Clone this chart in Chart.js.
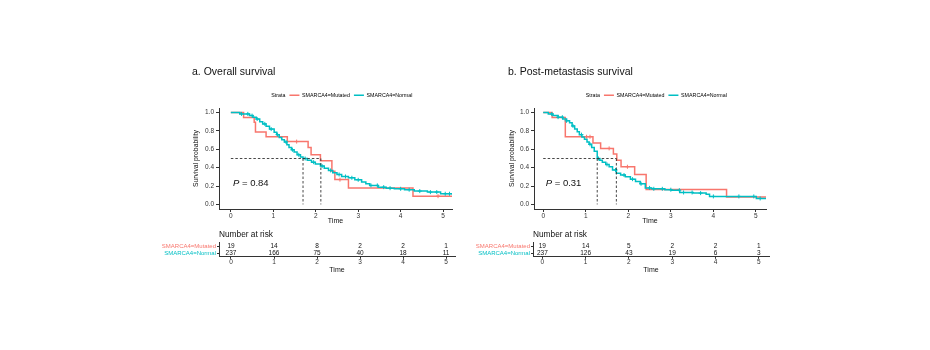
<!DOCTYPE html>
<html>
<head>
<meta charset="utf-8">
<script src="https://cdn.jsdelivr.net/npm/chart.js@4.4.0/dist/chart.umd.min.js"></script>
<style>
  body { margin: 0; background: #fff; }
  #wrap { position: relative; width: 930px; height: 350px; overflow: hidden; background: #fff; }
  canvas { position: absolute; }
</style>
</head>
<body>
<div id="wrap">
  <canvas id="kmA" width="267" height="165" style="left:190px;top:60px"></canvas>
  <canvas id="kmB" width="265" height="165" style="left:506px;top:60px"></canvas>
  <canvas id="riskA" width="307" height="48" style="left:150px;top:226px"></canvas>
  <canvas id="riskB" width="305" height="48" style="left:466px;top:226px"></canvas>
</div>
<script>
// strata + shared axis ticks
const strata = ['SMARCA4=Mutated', 'SMARCA4=Normal'];
const xTicks = [0, 1, 2, 3, 4, 5];
const yTicks = [0, 0.2, 0.4, 0.6, 0.8, 1.0];

// a. Overall survival (step times / survival)
const osMutTime = [0, 0.30, 0.55, 0.58, 0.83, 1.33, 1.82, 1.89, 2.11, 2.38, 2.45, 2.77, 4.29, 5.21];
const osMutSurv = [1, 0.947, 0.895, 0.789, 0.737, 0.684, 0.62, 0.54, 0.476, 0.36, 0.27, 0.18, 0.09, 0.09];
const osNormTime = [0, 0.21, 0.44, 0.52, 0.60, 0.68, 0.75, 0.83, 0.91, 1.02, 1.08, 1.14, 1.20, 1.26, 1.32, 1.37, 1.43, 1.49, 1.56, 1.64, 1.70, 1.80, 1.90, 1.99, 2.11, 2.20, 2.30, 2.40, 2.50, 2.61, 2.77, 2.92, 3.08, 3.18, 3.27, 3.47, 3.66, 3.85, 4.09, 4.32, 4.63, 4.94, 5.21];
const osNormSurv = [1, 0.986, 0.967, 0.95, 0.93, 0.90, 0.877, 0.85, 0.82, 0.786, 0.76, 0.73, 0.705, 0.68, 0.65, 0.62, 0.595, 0.57, 0.54, 0.515, 0.50, 0.48, 0.46, 0.44, 0.417, 0.395, 0.37, 0.345, 0.326, 0.304, 0.29, 0.268, 0.243, 0.225, 0.207, 0.188, 0.177, 0.17, 0.16, 0.145, 0.134, 0.116, 0.105];
const osMutCensor = [1.55, 2.57, 4.88];
const osNormCensor = [0.25, 0.4, 0.5, 0.62, 0.8, 0.95, 1.1, 1.3, 1.45, 1.6, 1.75, 1.95, 2.15, 2.35, 2.55, 2.7, 2.85, 3.0, 3.3, 3.45, 3.6, 3.75, 4.0, 4.2, 4.45, 4.7, 4.85, 5.05, 5.15];
const osMedians = [1.70, 2.12];
const osPValue = '0.84';
const osRiskMut = [19, 14, 8, 2, 2, 1];
const osRiskNorm = [237, 166, 75, 40, 18, 11];

// b. Post-metastasis survival
const pmMutTime = [0, 0.21, 0.52, 1.17, 1.35, 1.65, 1.73, 1.83, 2.15, 2.42, 4.31, 5.24];
const pmMutSurv = [1, 0.947, 0.737, 0.67, 0.61, 0.55, 0.48, 0.41, 0.326, 0.163, 0.08, 0.08];
const pmNormTime = [0, 0.12, 0.23, 0.35, 0.46, 0.55, 0.62, 0.68, 0.74, 0.80, 0.85, 0.91, 0.97, 1.03, 1.08, 1.14, 1.20, 1.27, 1.33, 1.39, 1.47, 1.55, 1.63, 1.72, 1.82, 1.93, 2.05, 2.17, 2.28, 2.40, 2.55, 2.86, 3.02, 3.21, 3.52, 3.83, 3.91, 5.01, 5.24];
const pmNormSurv = [1, 0.985, 0.967, 0.95, 0.93, 0.91, 0.89, 0.855, 0.82, 0.79, 0.76, 0.735, 0.71, 0.68, 0.655, 0.62, 0.58, 0.50, 0.48, 0.46, 0.435, 0.41, 0.375, 0.34, 0.32, 0.30, 0.275, 0.25, 0.225, 0.18, 0.17, 0.16, 0.155, 0.13, 0.123, 0.112, 0.087, 0.065, 0.065];
const pmMutCensor = [1.02, 1.1, 1.55, 1.98];
const pmNormCensor = [0.2, 0.35, 0.45, 0.55, 0.7, 0.9, 1.1, 1.3, 1.5, 1.7, 1.9, 2.1, 2.3, 2.5, 2.6, 2.8, 3.0, 3.2, 3.3, 3.5, 3.7, 4.0, 4.6, 4.95, 5.1];
const pmMedians = [1.27, 1.72];
const pmPValue = '0.31';
const pmRiskMut = [19, 14, 5, 2, 2, 1];
const pmRiskNorm = [237, 126, 43, 19, 6, 3];

const RED = '#F8766D';
const TEAL = '#00BFC4';
const AXIS = '#333';
const TICK = '#333';
const strataColors = [RED, TEAL];

Chart.defaults.font.family = '"Liberation Sans", Arial, Helvetica, sans-serif';

function toPoints(times, surv) {
  return times.map((t, i) => ({ x: t, y: surv[i] }));
}

// survival value of a step curve at time t
function stepValue(times, surv, t) {
  let s = surv[0];
  for (let i = 0; i < times.length; i++) {
    if (times[i] <= t) s = surv[i];
  }
  return s;
}

function medianLines(medians) {
  let dash = { borderColor: '#333', borderWidth: 0.9, borderDash: [2.5, 2], pointRadius: 0, order: 0 };
  let sets = [Object.assign({ data: [{ x: 0, y: 0.5 }, { x: Math.max(...medians), y: 0.5 }] }, dash)];
  medians.forEach(m => {
    sets.push(Object.assign({ data: [{ x: m, y: 0.5 }, { x: m, y: 0 }] }, dash));
  });
  return sets;
}

// P = ... text, placed in data coordinates
const pLabel = {
  id: 'pLabel',
  afterDatasetsDraw(chart, args, opts) {
    const ctx = chart.ctx;
    const x = chart.scales.x.getPixelForValue(opts.x);
    const y = chart.scales.y.getPixelForValue(opts.y);
    ctx.save();
    ctx.fillStyle = '#111';
    ctx.textBaseline = 'middle';
    ctx.textAlign = 'left';
    ctx.font = 'italic 9.5px "Liberation Sans", Arial, sans-serif';
    ctx.fillText('P', x, y);
    const w = ctx.measureText('P').width;
    ctx.font = '9.5px "Liberation Sans", Arial, sans-serif';
    ctx.fillText(' = ' + opts.text, x + w, y);
    ctx.restore();
  }
};

// numbers at risk drawn at each (invisible) point
const riskNumbers = {
  id: 'riskNumbers',
  afterDatasetsDraw(chart) {
    const ctx = chart.ctx;
    ctx.save();
    ctx.fillStyle = '#111';
    ctx.font = '6.5px "Liberation Sans", Arial, sans-serif';
    ctx.textAlign = 'center';
    ctx.textBaseline = 'middle';
    chart.data.datasets.forEach((ds, i) => {
      chart.getDatasetMeta(i).data.forEach((pt, j) => {
        ctx.fillText(String(ds.counts[j]), pt.x, pt.y);
      });
    });
    ctx.restore();
  }
};

const legendItems = [
  { text: 'Strata', strokeStyle: 'rgba(0,0,0,0)', fillStyle: 'rgba(0,0,0,0)', lineWidth: 0, pointStyle: 'line' },
  { text: strata[0], strokeStyle: RED, fillStyle: RED, lineWidth: 1.5, pointStyle: 'line' },
  { text: strata[1], strokeStyle: TEAL, fillStyle: TEAL, lineWidth: 1.5, pointStyle: 'line' }
];

function xAxis(o, height, tickLen) {
  return {
    type: 'linear', min: o.xMin, max: o.xMax,
    afterBuildTicks: s => { s.ticks = xTicks.map(v => ({ value: v })); },
    afterFit: s => { s.height = height; },
    grid: { display: true, drawOnChartArea: false, drawTicks: true, tickLength: tickLen, color: AXIS },
    border: { display: true, color: AXIS, width: 1 },
    ticks: { padding: 0, color: TICK, font: { size: 6.5 }, maxRotation: 0, autoSkip: false, callback: v => String(v) },
    title: { display: true, text: 'Time', color: '#111', font: { size: 7 }, padding: 0 }
  };
}

function kmChart(id, o) {
  return new Chart(document.getElementById(id), {
    type: 'line',
    data: {
      datasets: [
        { data: toPoints(o.mutT, o.mutS), borderColor: RED, borderWidth: 1.5, stepped: true, pointRadius: 0, order: 3 },
        { data: toPoints(o.normT, o.normS), borderColor: TEAL, borderWidth: 1.5, stepped: true, pointRadius: 0, order: 2 },
        { type: 'scatter', data: o.mutC.map(t => ({ x: t, y: stepValue(o.mutT, o.mutS, t) })), pointStyle: 'cross', pointRadius: 2, borderColor: RED, borderWidth: 1, order: 1 },
        { type: 'scatter', data: o.normC.map(t => ({ x: t, y: stepValue(o.normT, o.normS, t) })), pointStyle: 'cross', pointRadius: 2, borderColor: TEAL, borderWidth: 1, order: 1 }
      ].concat(medianLines(o.medians))
    },
    options: {
      responsive: false,
      animation: false,
      layout: { padding: { left: 2, right: 2, top: 0, bottom: 0 } },
      elements: { line: { tension: 0 } },
      plugins: {
        title: { display: true, text: o.title, align: 'start', color: '#111', font: { size: 10.5, weight: 'normal' }, padding: { top: 5.7, bottom: 10.4 } },
        legend: {
          display: true, fullSize: false,
          labels: { usePointStyle: true, pointStyleWidth: 10, boxHeight: 5.3, padding: 4, color: '#222', font: { size: 5.3 }, generateLabels: () => legendItems }
        },
        tooltip: { enabled: false },
        pLabel: { x: o.pX, y: 0.228, text: o.pText }
      },
      scales: {
        x: xAxis(o, 16, 3),
        y: {
          type: 'linear', min: -0.05, max: 1.05,
          afterBuildTicks: s => { s.ticks = yTicks.map(v => ({ value: v })); },
          afterFit: s => { s.width = o.yWidth; },
          grid: { display: true, drawOnChartArea: false, drawTicks: true, tickLength: 3, color: AXIS },
          border: { display: true, color: AXIS, width: 1 },
          ticks: { padding: 2, color: TICK, font: { size: 6.5 }, autoSkip: false, callback: v => v.toFixed(1) },
          title: { display: true, text: 'Survival probability', color: '#111', font: { size: 6.8 }, padding: 0 }
        }
      }
    },
    plugins: [pLabel]
  });
}

function riskChart(id, o) {
  return new Chart(document.getElementById(id), {
    type: 'scatter',
    data: {
      datasets: [
        { data: xTicks.map(t => ({ x: t, y: strata[0] })), counts: o.riskMut, pointRadius: 0 },
        { data: xTicks.map(t => ({ x: t, y: strata[1] })), counts: o.riskNorm, pointRadius: 0 }
      ]
    },
    options: {
      responsive: false,
      animation: false,
      layout: { padding: { left: 0, right: 2, top: 0, bottom: 0 } },
      plugins: {
        title: { display: true, fullSize: false, text: 'Number at risk', align: 'start', color: '#111', font: { size: 8.3, weight: 'normal' }, padding: { top: 4, bottom: 2.84 } },
        legend: { display: false },
        tooltip: { enabled: false }
      },
      scales: {
        x: xAxis(o, 17.2, 2),
        y: {
          type: 'category', labels: strata, offset: true,
          afterFit: s => { s.width = o.tableWidth; },
          grid: { display: true, drawOnChartArea: false, drawTicks: true, tickLength: 2, color: AXIS, offset: false },
          border: { display: true, color: AXIS, width: 1 },
          ticks: { padding: 1, font: { size: 6 }, autoSkip: false, color: c => strataColors[c.index] }
        }
      }
    },
    plugins: [riskNumbers]
  });
}

kmChart('kmA', {
  title: 'a. Overall survival', mutT: osMutTime, mutS: osMutSurv, normT: osNormTime, normS: osNormSurv,
  mutC: osMutCensor, normC: osNormCensor, medians: osMedians, pText: osPValue, pX: 0.05,
  xMin: -0.279, xMax: 5.209, yWidth: 27
});
kmChart('kmB', {
  title: 'b. Post-metastasis survival', mutT: pmMutTime, mutS: pmMutSurv, normT: pmNormTime, normS: pmNormSurv,
  mutC: pmMutCensor, normC: pmNormCensor, medians: pmMedians, pText: pmPValue, pX: 0.06,
  xMin: -0.216, xMax: 5.237, yWidth: 26
});
riskChart('riskA', { riskMut: osRiskMut, riskNorm: osRiskNorm, xMin: -0.279, xMax: 5.209, tableWidth: 69 });
riskChart('riskB', { riskMut: pmRiskMut, riskNorm: pmRiskNorm, xMin: -0.216, xMax: 5.237, tableWidth: 67 });
</script>
</body>
</html>
